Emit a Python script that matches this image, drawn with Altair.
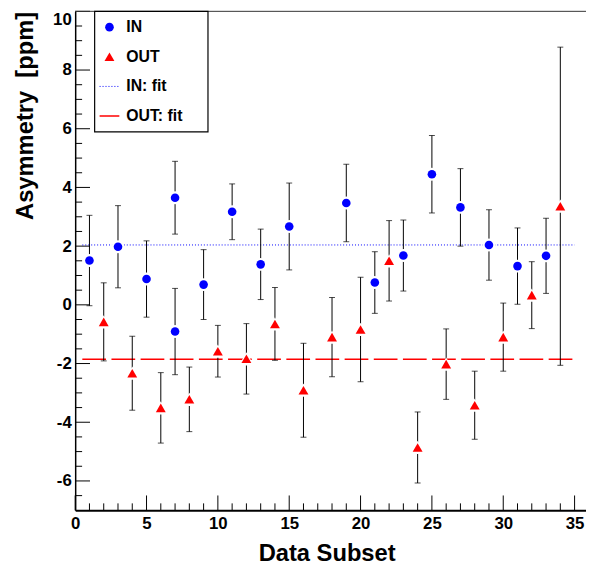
import altair as alt
import pandas as pd

# ---------------- data ----------------
series_names = ["IN", "OUT", "IN: fit", "OUT: fit"]

in_x = [1, 3, 5, 7, 7, 9, 11, 13, 15, 19, 21, 23, 25, 27, 29, 31, 33]
in_y = [1.51, 1.98, 0.88, 3.65, -0.91, 0.69, 3.17, 1.38, 2.67, 3.47, 0.76,
        1.68, 4.45, 3.32, 2.04, 1.32, 1.67]
in_err = [1.54, 1.40, 1.30, 1.24, 1.47, 1.19, 0.95, 1.20, 1.48, 1.32, 1.05,
          1.21, 1.32, 1.32, 1.20, 1.30, 1.28]

out_x = [2, 4, 6, 8, 10, 12, 14, 16, 18, 20, 22, 24, 26, 28, 30, 32, 34]
out_y = [-0.58, -2.33, -3.51, -3.22, -1.58, -1.84, -0.65, -2.91, -1.10, -0.84,
         1.50, -4.86, -2.02, -3.42, -1.10, 0.33, 3.36]
out_err = [1.33, 1.26, 1.20, 1.10, 0.88, 1.20, 1.24, 1.60, 1.35, 1.78, 1.37,
           1.21, 1.20, 1.16, 1.16, 1.14, 5.42]

fit_in_value = 2.04
fit_out_value = -1.85
fit_x_start = 0.5
fit_x_end = 35.0

x_major = [0, 5, 10, 15, 20, 25, 30, 35]
x_minor = [v for v in range(1, 36) if v % 5 != 0]
y_major = [-6, -4, -2, 0, 2, 4, 6, 8, 10]
y_minor = [v / 2 for v in range(-13, 20) if (v / 2) % 2 != 0]

# ---------------- tables ----------------
pts = pd.DataFrame({
    "series": ["IN"] * len(in_x) + ["OUT"] * len(out_x),
    "x": in_x + out_x,
    "y": in_y + out_y,
    "err": in_err + out_err,
})
pts["lo"] = pts["y"] - pts["err"]
pts["hi"] = pts["y"] + pts["err"]

fits = pd.DataFrame({
    "series": ["IN: fit", "OUT: fit"],
    "x0": [fit_x_start, fit_x_start],
    "x1": [fit_x_end, fit_x_end],
    "y": [fit_in_value, fit_out_value],
})

W, H = 517, 505
FONT = "Liberation Sans"

xs = alt.Scale(domain=[0, 35.8], nice=False, zero=False)
ys = alt.Scale(domain=[-7, 10], nice=False, zero=False)

xaxis = alt.Axis(
    title="Data Subset", values=x_major, labelExpr="datum.value + ''",
    ticks=False, tickSize=0, grid=False, domainColor="black", domainWidth=2,
    labelFont=FONT, labelFontWeight="bold", labelFontSize=17, labelColor="black",
    labelPadding=5, labelFlush=False, labelOverlap=False,
    titleFont=FONT, titleFontWeight="bold", titleFontSize=24, titleColor="black",
    titleX=W / 2 - 4, titleY=51, titleBaseline="alphabetic", titleAlign="center",
)
yaxis = alt.Axis(
    title="Asymmetry\u00a0\u00a0[ppm]", values=y_major, labelExpr="datum.value + ''",
    ticks=False, tickSize=0, grid=False, domainColor="black", domainWidth=1.5,
    labelFont=FONT, labelFontWeight="bold", labelFontSize=17, labelColor="black",
    labelPadding=4, labelFlush=True, labelFlushOffset=0, labelOverlap=False,
    titleFont=FONT, titleFontWeight="bold", titleFontSize=24, titleColor="black",
    titleX=-43, titleY=0, titleAngle=270, titleAlign="right",
    titleBaseline="alphabetic",
)


def X(f):
    return alt.X(f, type="quantitative", scale=xs, axis=xaxis)


def Y(f):
    return alt.Y(f, type="quantitative", scale=ys, axis=yaxis)


base_pts = alt.Chart(pts)

# inward ticks
xmaj = alt.Chart(pd.DataFrame({"v": x_major})).mark_rule(color="black", strokeWidth=1).encode(
    x=X("v"), y=alt.value(H), y2=alt.value(H - 15))
xmin = alt.Chart(pd.DataFrame({"v": x_minor})).mark_rule(color="black", strokeWidth=1).encode(
    x=X("v"), y=alt.value(H), y2=alt.value(H - 7))
ymaj = alt.Chart(pd.DataFrame({"v": y_major})).mark_rule(color="black", strokeWidth=1).encode(
    y=Y("v"), x=alt.value(0), x2=alt.value(15))
ymin = alt.Chart(pd.DataFrame({"v": y_minor})).mark_rule(color="black", strokeWidth=1).encode(
    y=Y("v"), x=alt.value(0), x2=alt.value(7))
top_line = alt.Chart(pd.DataFrame({"v": [0]})).mark_rule(color="#333333", strokeWidth=1).encode(
    x=alt.value(0), x2=alt.value(W), y=alt.value(0))

# fit lines
fit_in = alt.Chart(fits).transform_filter("datum.series == 'IN: fit'").mark_rule(
    color="#0000ff", strokeWidth=1, strokeDash=[1, 2]).encode(
    x=X("x0"), x2=alt.X2("x1"), y=Y("y"))
fit_out = alt.Chart(fits).transform_filter("datum.series == 'OUT: fit'").mark_rule(
    color="#ff0000", strokeWidth=1.5, strokeDash=[24, 5.5]).encode(
    x=X("x0"), x2=alt.X2("x1"), y=Y("y"))

# error bars
bars = base_pts.mark_rule(color="black", strokeWidth=1).encode(
    x=X("x"), y=Y("lo"), y2=alt.Y2("hi"))
cap_lo = base_pts.mark_tick(color="black", orient="horizontal", size=6, thickness=1).encode(
    x=X("x"), y=Y("lo"))
cap_hi = base_pts.mark_tick(color="black", orient="horizontal", size=6, thickness=1).encode(
    x=X("x"), y=Y("hi"))

# white halos around markers
halo_in = base_pts.transform_filter("datum.series == 'IN'").mark_point(
    shape="circle", filled=True, color="white", opacity=1, size=170).encode(
    x=X("x"), y=Y("y"))
halo_out = base_pts.transform_filter("datum.series == 'OUT'").mark_point(
    shape="triangle-up", filled=True, color="white", opacity=1, size=240).encode(
    x=X("x"), y=Y("y"))

# legend frame (ROOT-style box)
legend_box = alt.Chart(pd.DataFrame({"v": [0]})).mark_rect(
    fill="white", stroke="black", strokeWidth=1.2).encode(
    x=alt.value(19.7), x2=alt.value(134.4), y=alt.value(0), y2=alt.value(122))

leg = alt.Legend(
    title=None, orient="none", legendX=19.7, legendY=0, padding=4,
    clipHeight=24, rowPadding=6, labelOffset=6,
    labelFont=FONT, labelFontWeight="bold", labelFontSize=16, labelColor="black",
    symbolOpacity=1,
)

markers = base_pts.mark_point(filled=True, opacity=1).encode(
    x=X("x"), y=Y("y"),
    fill=alt.Fill("series:N", scale=alt.Scale(domain=series_names,
                  range=["#0000ff", "#ff0000", "#0000ff", "#ff0000"]), legend=leg),
    stroke=alt.Stroke("series:N", scale=alt.Scale(domain=series_names,
                      range=["#0000ff", "#ff0000", "#0000ff", "#ff0000"]), legend=leg),
    shape=alt.Shape("series:N", scale=alt.Scale(domain=series_names,
                    range=["circle", "triangle-up", "stroke", "stroke"]), legend=leg),
    size=alt.Size("series:N", scale=alt.Scale(type="ordinal", domain=series_names,
                  range=[76, 100, 400, 400]), legend=leg),
    strokeDash=alt.StrokeDash("series:N", scale=alt.Scale(domain=series_names,
                              range=[[1, 0], [1, 0], [1, 2], [1, 0]]), legend=leg),
    strokeWidth=alt.StrokeWidth("series:N", scale=alt.Scale(type="ordinal", domain=series_names,
                                range=[0, 0, 1, 1.5]), legend=leg),
)

chart = alt.layer(
    xmin, xmaj, ymin, ymaj, top_line, fit_in, fit_out, bars, cap_lo, cap_hi,
    halo_in, halo_out, markers, legend_box,
).properties(
    width=W, height=H,
    autosize=alt.AutoSizeParams(type="none"),
    padding={"left": 68, "top": 0, "right": 0, "bottom": 52},
    background="white",
).configure_view(stroke=None)

chart.save("out.html", embed_options={"renderer": "svg", "actions": False})
